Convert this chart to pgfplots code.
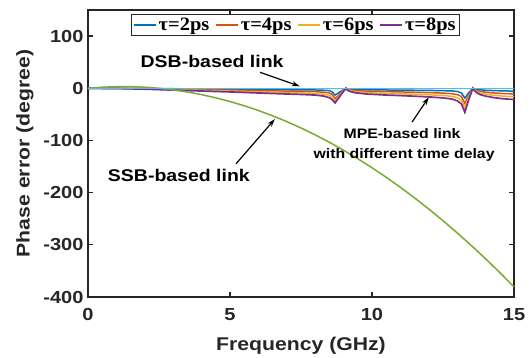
\documentclass[border=0pt]{standalone}
\usepackage{fontspec}
\setmainfont{Liberation Sans}[FakeStretch=1.15]
\newfontfamily\serifb{Liberation Serif}[FakeStretch=1.08]
\usepackage{pgfplots}
\pgfplotsset{compat=1.18}
\usetikzlibrary{arrows.meta}
\definecolor{mblue}{rgb}{0,0.447,0.741}
\definecolor{morange}{rgb}{0.85,0.325,0.098}
\definecolor{myellow}{rgb}{0.929,0.694,0.125}
\definecolor{mpurple}{rgb}{0.494,0.184,0.556}
\definecolor{mgreen}{rgb}{0.466,0.674,0.188}
\definecolor{mcyan}{rgb}{0.301,0.745,0.933}
\definecolor{axgray}{rgb}{0.15,0.15,0.15}
\begin{document}
\begin{tikzpicture}
\begin{axis}[
  name=ax,
  scale only axis,
  width=426bp, height=287bp,
  xmin=0, xmax=15, ymin=-400, ymax=150,
  xtick={0,5,10,15}, ytick={-400,-300,-200,-100,0,100},
  tick align=inside,
  major tick length=5bp,
  every tick/.style={axgray, line width=1.2bp},
  axis line style={axgray, line width=1.5bp},
  /pgf/number format/assume math mode=true,
  ticklabel style={font=\bfseries\fontsize{17.5}{17.5}\selectfont, text=axgray},
  xticklabel style={yshift=-8bp},
  yticklabel style={xshift=-1bp},
  xlabel={Frequency (GHz)},
  ylabel={Phase error (degree)},
  label style={font=\bfseries\fontsize{18.5}{18.5}\selectfont, text=axgray},
  xlabel style={at={(axis description cs:0.5,-0.1707)}, anchor=center},
  ylabel style={at={(axis description cs:-0.1479,0.5)}, anchor=center},
  clip=false,
  legend columns=4,
  legend style={at={(rel axis cs:0.487,0.986)}, anchor=north,
    font=\serifb\bfseries\fontsize{19}{19}\selectfont,
    draw=axgray, line width=0.8bp, inner sep=1.5bp,
    /tikz/every even column/.append style={column sep=4bp}},
  legend image code/.code={\draw[#1, line width=1.5bp] (0bp,0bp) -- (22bp,0bp);},
]
% tau = 2 ps
\addplot[mblue, line width=1.5bp] coordinates {
(0,0)(1,-0.1)(2,-0.4)(3,-0.9)(4,-1.3)(5,-1.8)(6,-2.3)(7,-2.8)(7.5,-3)(8,-3.3)(8.3,-3.8)(8.5,-4.5)(8.6,-7)(8.7,-13)(8.9,-6)(9.08,0)
(9.12,-0.8)(9.2,-1.4)(9.4,-2.1)(9.8,-2.8)(10.5,-3.3)(11,-3.5)(12,-4.1)(12.5,-4.6)(12.8,-5.2)(13.0,-6)(13.15,-9)(13.27,-19)(13.4,-9)(13.55,0)
(13.6,-1)(13.7,-2.3)(13.8,-3)(14,-3.8)(14.3,-4.5)(14.6,-5)(15,-5.4)};
\addlegendentry{τ=2ps}
% tau = 4 ps
\addplot[morange, line width=1.5bp] coordinates {
(0,0)(1,-0.25)(2,-0.85)(3,-1.75)(4,-2.65)(5,-3.5)(6,-4.5)(7,-5.5)(7.5,-5.9)(8,-6.5)(8.3,-7.5)(8.5,-9)(8.6,-12)(8.7,-20)(8.9,-9)(9.08,0)
(9.12,-1.5)(9.2,-2.9)(9.4,-4.3)(9.8,-5.5)(10.5,-6.5)(11,-7)(12,-8.3)(12.5,-9.3)(12.8,-10.3)(13.0,-12)(13.15,-16)(13.27,-29)(13.4,-14)(13.55,0)
(13.6,-2)(13.7,-4.5)(13.8,-6)(14,-7.5)(14.3,-9)(14.6,-10)(15,-10.8)};
\addlegendentry{τ=4ps}
% tau = 6 ps
\addplot[myellow, line width=1.5bp] coordinates {
(0,0)(1,-0.4)(2,-1.3)(3,-2.6)(4,-4)(5,-5.3)(6,-6.8)(7,-8.3)(7.5,-8.9)(8,-9.8)(8.3,-11.3)(8.5,-13.5)(8.6,-17)(8.7,-24)(8.9,-11)(9.08,0)
(9.12,-2.3)(9.2,-4.3)(9.4,-6.4)(9.8,-8.3)(10.5,-9.8)(11,-10.5)(12,-12.4)(12.5,-13.9)(12.8,-15.4)(13.0,-18)(13.15,-23)(13.27,-37)(13.4,-18)(13.55,0)
(13.6,-3)(13.7,-6.8)(13.8,-9)(14,-11.3)(14.3,-13.5)(14.6,-15)(15,-16)};
\addlegendentry{τ=6ps}
% tau = 8 ps
\addplot[mpurple, line width=1.7bp] coordinates {
(0,0)(1,-0.5)(2,-1.7)(3,-3.5)(4,-5.3)(5,-7)(6,-9)(7,-11)(7.5,-11.8)(8,-13)(8.3,-15)(8.5,-18)(8.6,-22)(8.7,-28)(8.9,-13)(9.08,0)
(9.12,-3)(9.2,-5.7)(9.4,-8.5)(9.8,-11)(10.5,-13)(11,-14)(12,-16.5)(12.5,-18.5)(12.8,-20.5)(13.0,-24)(13.15,-30)(13.27,-46)(13.4,-23)(13.55,0)
(13.6,-4)(13.7,-9)(13.8,-12)(14,-15)(14.3,-18)(14.6,-20)(15,-21.5)};
\addlegendentry{τ=8ps}
% SSB
\addplot[mgreen, line width=1.5bp, forget plot] coordinates {
(0,0)(0.5,2.0)(1,3.05)(1.5,3.05)(2,2.0)(2.5,0)(3,-3.05)(3.5,-7.1)(4,-12.2)(4.5,-18.3)(5,-25.4)(5.5,-33.5)(6,-42.6)(6.5,-52.8)(7,-63.9)(7.5,-76.1)(8,-89.3)(8.5,-103.5)(9,-118.8)(9.5,-135)(10,-152.3)(10.5,-170.5)(11,-189.8)(11.5,-210.1)(12,-231.4)(12.5,-253.8)(13,-277.1)(13.5,-301.5)(14,-326.8)(14.5,-353.2)(15,-380.6)};
% DSB
\addplot[mcyan, line width=1.5bp, forget plot] coordinates {(0,0)(15,0)};
% annotations
\node[font=\bfseries\fontsize{17}{17}\selectfont] at (axis cs:4.37,51.4) {DSB-based link};
\draw[-{Stealth[length=8bp,width=5bp]}, line width=1.2bp] (axis cs:6.06,30.5) -- (axis cs:7.46,3.8);
\node[font=\bfseries\fontsize{17}{17}\selectfont] at (axis cs:3.2,-167.6) {SSB-based link};
\draw[-{Stealth[length=8bp,width=5bp]}, line width=1.2bp] (axis cs:5.21,-144.8) -- (axis cs:6.58,-59);
\node[font=\bfseries\fontsize{13.8}{13.8}\selectfont] at (axis cs:11.06,-87.6) {MPE-based link};
\node[font=\bfseries\fontsize{13.8}{13.8}\selectfont] at (axis cs:11.13,-127.6) {with different time delay};
\draw[-{Stealth[length=8bp,width=5bp]}, line width=1.2bp] (axis cs:11.41,-64.8) -- (axis cs:12.0,-17.1);
\end{axis}
\pgfresetboundingbox
\path[use as bounding box] ([xshift=-88bp,yshift=-61bp]ax.south west) rectangle ([xshift=16bp,yshift=10bp]ax.north east);
\end{tikzpicture}
\end{document}
